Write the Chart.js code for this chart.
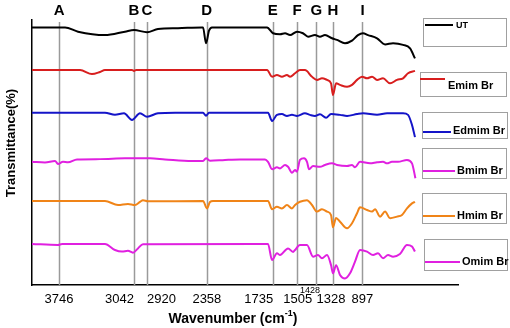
<!DOCTYPE html>
<html>
<head>
<meta charset="utf-8">
<script src="https://cdn.jsdelivr.net/npm/chart.js@4.4.1/dist/chart.umd.min.js"></script>
<style>
  body { margin: 0; background: #fff; }
  canvas { display: block; }
</style>
</head>
<body>
<canvas id="chart" width="510" height="328"></canvas>
<script>
// series names (legend order)
const names = ['UT', 'Emim Br', 'Edmim Br', 'Bmim Br', 'Hmim Br', 'Omim Br'];

// wavenumber (cm-1) / stacked transmittance
const utX = [4000, 3690, 3568, 3315, 3127, 3042, 2920, 2817, 2629, 2404, 2394, 2366, 2338, 2310, 1793, 1737, 1671, 1624, 1577, 1512, 1456, 1408, 1343, 1296, 1249, 1183, 1136, 1061, 995, 939, 892, 845, 760, 685, 610, 516, 450, 404];
const utY = [97.2, 97.2, 95.6, 94.3, 95.6, 96.2, 95.4, 96.6, 96.9, 97.2, 97.2, 91.2, 96.0, 97.2, 97.2, 95.0, 94.6, 95.0, 94.3, 95.6, 95.0, 93.7, 94.3, 93.7, 94.3, 93.1, 92.5, 91.2, 92.2, 94.3, 95.0, 94.3, 93.1, 90.8, 91.2, 90.6, 89.3, 85.5];

const emimX = [4000, 3549, 3437, 3361, 3315, 3061, 3042, 3023, 1793, 1746, 1700, 1653, 1606, 1577, 1530, 1484, 1437, 1371, 1324, 1277, 1230, 1192, 1174, 1145, 1108, 1042, 995, 948, 901, 854, 807, 760, 704, 638, 573, 516, 469, 404];
const emimY = [81.1, 81.1, 79.6, 80.4, 81.1, 81.1, 80.8, 81.1, 81.1, 78.6, 79.2, 78.6, 79.2, 78.6, 79.9, 81.1, 81.1, 78.6, 77.4, 78.0, 77.4, 76.1, 71.7, 76.1, 75.5, 74.8, 75.5, 77.4, 78.6, 78.0, 78.6, 77.4, 78.0, 76.1, 77.4, 78.0, 79.9, 80.8];

const edmimX = [4000, 3315, 3221, 3136, 3061, 2986, 2920, 2817, 2657, 2394, 2366, 2338, 1784, 1746, 1700, 1653, 1606, 1559, 1512, 1437, 1390, 1343, 1296, 1239, 1192, 1108, 1042, 948, 892, 760, 666, 516, 469, 432, 404];
const edmimY = [65.0, 65.0, 64.2, 64.8, 62.3, 64.8, 63.5, 64.8, 65.0, 65.0, 63.9, 65.0, 65.0, 61.9, 64.2, 64.5, 63.8, 64.2, 63.8, 64.8, 64.2, 63.8, 64.4, 63.1, 64.5, 64.2, 63.8, 64.5, 64.8, 64.2, 64.8, 64.8, 64.2, 60.4, 55.8];

const bmimX = [4000, 3878, 3784, 3756, 3709, 3662, 3577, 3361, 3127, 2892, 2751, 2498, 2394, 2366, 2329, 2188, 2047, 1812, 1784, 1746, 1700, 1671, 1624, 1596, 1559, 1530, 1512, 1484, 1446, 1418, 1399, 1361, 1296, 1249, 1183, 1136, 1042, 995, 967, 920, 826, 760, 704, 666, 620, 563, 479, 432, 400];
const bmimY = [46.5, 46.2, 46.8, 45.7, 46.5, 46.3, 47.4, 47.5, 47.8, 47.8, 47.4, 46.8, 46.8, 47.8, 46.9, 47.2, 47.4, 47.4, 46.5, 43.7, 44.4, 44.0, 45.3, 44.6, 42.4, 43.4, 42.8, 47.2, 47.8, 46.5, 43.7, 44.9, 44.6, 45.3, 45.9, 45.3, 44.9, 45.3, 44.4, 46.5, 45.9, 46.3, 46.5, 45.9, 46.5, 46.5, 47.2, 45.9, 40.3];

const hmimX = [4000, 3315, 3192, 3099, 3033, 2986, 2958, 2911, 2394, 2357, 2329, 2300, 1784, 1746, 1700, 1653, 1606, 1559, 1530, 1484, 1418, 1371, 1324, 1277, 1230, 1192, 1174, 1145, 1108, 1042, 995, 948, 920, 854, 807, 779, 732, 685, 638, 573, 526, 479, 432, 404];
const hmimY = [31.7, 31.7, 30.2, 30.6, 30.2, 31.4, 32.0, 31.6, 31.7, 28.9, 31.3, 31.7, 31.7, 28.6, 29.5, 28.9, 30.2, 28.9, 30.2, 31.4, 32.0, 30.2, 27.7, 28.6, 27.7, 26.4, 21.8, 25.3, 23.9, 21.4, 23.3, 27.1, 29.3, 28.3, 27.7, 28.6, 25.8, 27.7, 25.2, 25.8, 26.4, 28.9, 30.8, 31.4];

const omimX = [4000, 3756, 3718, 3315, 3221, 3155, 3099, 3052, 3005, 2958, 1784, 1746, 1700, 1671, 1596, 1549, 1530, 1484, 1418, 1361, 1315, 1277, 1230, 1192, 1174, 1145, 1108, 1061, 1014, 967, 920, 854, 798, 751, 704, 657, 610, 545, 479, 432, 404];
const omimY = [15.5, 15.1, 15.5, 15.5, 13.2, 12.6, 12.9, 12.2, 13.8, 15.4, 15.5, 9.4, 12.0, 11.3, 13.8, 12.5, 13.2, 15.1, 15.1, 10.7, 11.3, 10.1, 11.3, 7.5, 4.4, 7.5, 3.8, 2.5, 4.4, 8.8, 13.2, 12.6, 11.3, 12.0, 10.1, 11.3, 10.7, 11.7, 15.1, 14.5, 12.6];

// marked bands
const peakLetters = ['A', 'B', 'C', 'D', 'E', 'F', 'G', 'H', 'I'];
const peakAt = [3746, 3042, 2920, 2360, 1740, 1510, 1330, 1175, 897];

// x tick labels
const tickValues = [3746, 3042, 2920, 2358, 1735, 1505, 1428, 1328, 897];
const tickLabels = ['3746', '3042', '2920', '2358', '1735', '1505', '1428', '1328', '897'];

const colors = ['#000000', '#d81e1e', '#1414c8', '#e020e0', '#f08418', '#e020e0'];
const tickAlign = ['center', 'right', 'left', 'center', 'right', 'center', 'center', 'left', 'center'];

// legend boxes: [left, top, width, height, lineStart, lineEnd, lineY, textX, textY, fontSize]
const legendBoxes = [
    [423, 18, 83, 28, 425, 453, 25, 456, 26, 9],
    [420, 72, 86, 24, 420, 445, 79, 448, 86, 11],
    [422, 112, 85, 26, 423, 451, 132, 453, 131, 11],
    [422, 148, 84, 30, 423, 455, 171, 457, 171, 11],
    [422, 193, 84, 30, 423, 455, 216, 457, 216, 11],
    [424, 239, 83, 31, 425, 460, 262, 462, 262, 11]
];

const FONT = 'Liberation Sans, Arial, sans-serif';

function toPoints(xs, ys) {
    return xs.map((x, i) => ({ x: x, y: ys[i] }));
}

const seriesX = [utX, emimX, edmimX, bmimX, hmimX, omimX];
const seriesY = [utY, emimY, edmimY, bmimY, hmimY, omimY];

const figurePlugin = {
    id: 'figure',
    beforeDatasetsDraw(chart) {
        const ctx = chart.ctx;
        const xs = chart.scales.x;
        const area = chart.chartArea;
        ctx.save();
        ctx.strokeStyle = '#9a9a9a';
        ctx.lineWidth = 1.5;
        peakAt.forEach(function(w) {
            const px = Math.round(xs.getPixelForValue(w)) + 0.5;
            ctx.beginPath();
            ctx.moveTo(px, area.top + 2);
            ctx.lineTo(px, area.bottom);
            ctx.stroke();
        });
        ctx.restore();
    },
    afterDraw(chart) {
        const ctx = chart.ctx;
        const xs = chart.scales.x;
        ctx.save();

        // band letters
        ctx.fillStyle = '#000';
        ctx.font = 'bold 15px ' + FONT;
        ctx.textAlign = 'center';
        ctx.textBaseline = 'middle';
        peakLetters.forEach(function(l, i) {
            ctx.fillText(l, xs.getPixelForValue(peakAt[i]), 11);
        });

        // tick labels
        tickValues.forEach(function(v, i) {
            const px = xs.getPixelForValue(v);
            if (tickLabels[i] === '1428') {
                ctx.font = '9px ' + FONT;
                ctx.textAlign = 'center';
                ctx.fillText(tickLabels[i], px + 4, 291);
                return;
            }
            ctx.font = '13px ' + FONT;
            ctx.textAlign = tickAlign[i];
            ctx.fillText(tickLabels[i], px, 299);
        });

        // x title with superscript
        ctx.font = 'bold 14px ' + FONT;
        ctx.textAlign = 'left';
        const part1 = 'Wavenumber (cm';
        const w1 = ctx.measureText(part1).width;
        ctx.font = 'bold 9px ' + FONT;
        const wSup = ctx.measureText('-1').width;
        ctx.font = 'bold 14px ' + FONT;
        const w3 = ctx.measureText(')').width;
        const tx = 233 - (w1 + wSup + w3) / 2;
        ctx.fillText(part1, tx, 319);
        ctx.font = 'bold 9px ' + FONT;
        ctx.fillText('-1', tx + w1, 314);
        ctx.font = 'bold 14px ' + FONT;
        ctx.fillText(')', tx + w1 + wSup, 319);

        // y title
        ctx.save();
        ctx.translate(11, 143);
        ctx.rotate(-Math.PI / 2);
        ctx.font = 'bold 13px ' + FONT;
        ctx.textAlign = 'center';
        ctx.fillText('Transmittance(%)', 0, 0);
        ctx.restore();

        // legend
        legendBoxes.forEach(function(b, i) {
            ctx.strokeStyle = '#a0a0a0';
            ctx.lineWidth = 1;
            ctx.strokeRect(b[0] + 0.5, b[1] + 0.5, b[2], b[3]);
            ctx.strokeStyle = colors[i];
            ctx.lineWidth = 2;
            ctx.beginPath();
            ctx.moveTo(b[4], b[6]);
            ctx.lineTo(b[5], b[6]);
            ctx.stroke();
            ctx.fillStyle = '#000';
            ctx.font = 'bold ' + b[9] + 'px ' + FONT;
            ctx.textAlign = 'left';
            ctx.textBaseline = 'middle';
            ctx.fillText(names[i], b[7], b[8]);
        });

        ctx.restore();
    }
};

new Chart(document.getElementById('chart'), {
    type: 'line',
    data: {
        datasets: names.map(function(n, i) {
            return {
                label: n,
                data: toPoints(seriesX[i], seriesY[i]),
                borderColor: colors[i],
                borderWidth: 2,
                pointRadius: 0,
                cubicInterpolationMode: 'monotone',
                fill: false
            };
        })
    },
    options: {
        responsive: false,
        animation: false,
        layout: { padding: { left: 32, right: 52, top: 20, bottom: 43 } },
        plugins: { legend: { display: false }, tooltip: { enabled: false } },
        scales: {
            x: {
                type: 'linear',
                reverse: true,
                min: 0,
                max: 4000,
                grid: { display: false, drawTicks: false },
                ticks: { display: false },
                border: { display: true, color: '#000', width: 1.5 }
            },
            y: {
                min: 0,
                max: 100,
                grid: { display: false, drawTicks: false },
                ticks: { display: false },
                border: { display: true, color: '#000', width: 1.5 }
            }
        }
    },
    plugins: [figurePlugin]
});
</script>
</body>
</html>
